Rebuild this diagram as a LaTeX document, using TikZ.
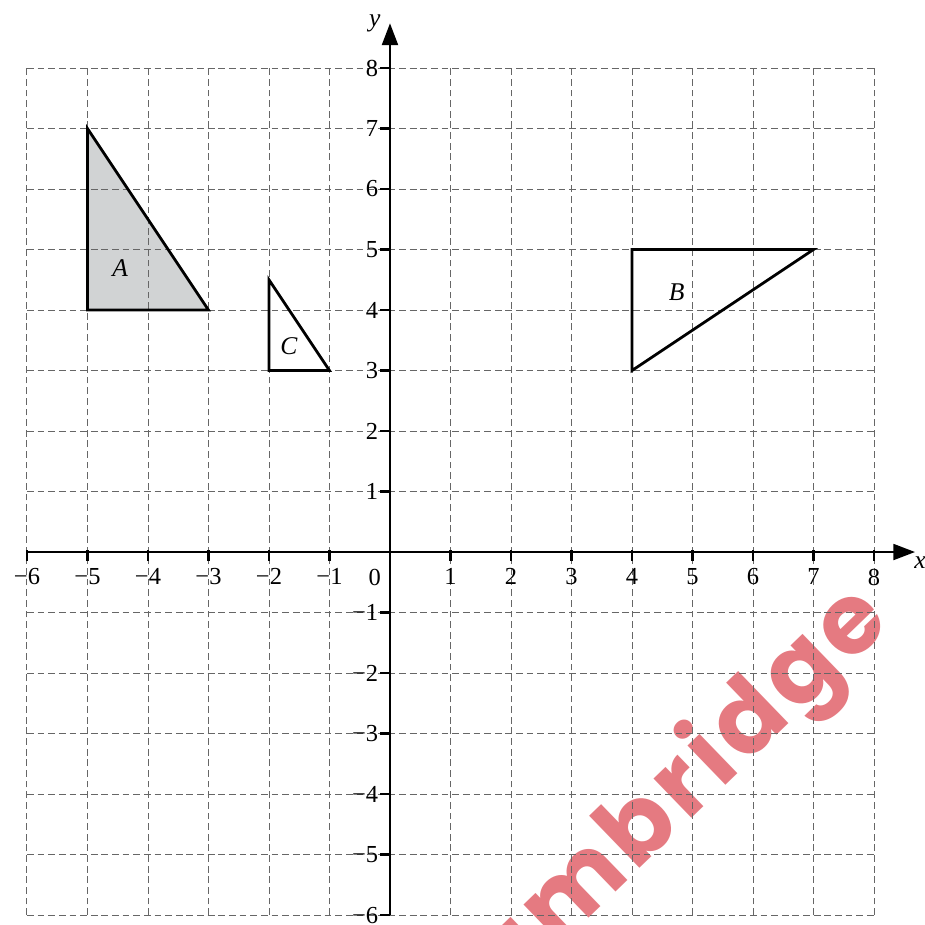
\documentclass[tikz,border=0pt]{standalone}
\usepackage{fontspec}
\setmainfont{Liberation Serif}
\newfontfamily\wmfont[LetterSpace=5.6]{Poppins}
\usetikzlibrary{arrows.meta}
\definecolor{wmred}{RGB}{229,122,129}
\definecolor{shadeA}{RGB}{209,211,212}
\begin{document}
\begin{tikzpicture}[x=1cm,y=1cm,
  gridline/.style={draw=black!60, line width=0.45pt, dash pattern=on 3.2pt off 1.8pt},
  axisline/.style={line width=1.3pt, -{Triangle[length=0.36cm,width=0.26cm]}},
  tickmark/.style={line width=1.1pt},
  triside/.style={line width=1.3pt, line join=miter},
  ticklab/.style={font=\fontsize{11.5}{13}\selectfont, inner sep=0pt},
  shapelab/.style={font=\fontsize{12}{14}\selectfont\itshape, inner sep=0pt},
  axislab/.style={font=\fontsize{12}{14}\selectfont\itshape, inner sep=0pt},
  watermark/.style={font=\wmfont\bfseries\fontsize{46}{52}\selectfont, text=wmred, rotate=44, anchor=base west, inner sep=0pt}
]
\useasboundingbox (-6.446,-6.149) rectangle (8.843,9.124);
\begin{scope}
  \clip (-6.446,-6.149) rectangle (8.843,9.124);
  \node[watermark] (wm) at (0.95,-8.30) {Cambridge};
\end{scope}
% vertices
\coordinate (A1) at (-5,7); \coordinate (A2) at (-5,4); \coordinate (A3) at (-3,4);
\coordinate (B1) at (4,5);  \coordinate (B2) at (7,5);  \coordinate (B3) at (4,3);
\coordinate (C1) at (-2,4.5); \coordinate (C2) at (-2,3); \coordinate (C3) at (-1,3);
\fill[shadeA] (A1) -- (A2) -- (A3) -- cycle;
% grid
\foreach \i in {-6,...,8} {
  \draw[gridline] (\i,-6) -- (\i,8);
  \draw[gridline] (-6,\i) -- (8,\i);
}
% axes
\coordinate (xs) at (-6,0); \coordinate (xe) at (8.68,0);
\coordinate (ys) at (0,-6); \coordinate (ye) at (0,8.74);
\draw[axisline] (xs) -- (xe);
\draw[axisline] (ys) -- (ye);
\foreach \i in {-6,...,-1,1,2,...,8} {
  \draw[tickmark] (\i,0.03) -- (\i,-0.15);
  \draw[tickmark] (0,\i) -- (-0.17,\i);
}
\foreach \i in {-6,...,-1} {
  \node[ticklab, anchor=north] (xl\i) at (\i,-0.27) {−\the\numexpr-\i\relax};
  \node[ticklab, anchor=east] (yl\i) at (-0.19,\i) {−\the\numexpr-\i\relax};
}
\foreach \i in {1,...,8} {
  \node[ticklab, anchor=north] (xl\i) at (\i,-0.27) {\i};
  \node[ticklab, anchor=east] (yl\i) at (-0.19,\i) {\i};
}
\node[ticklab, anchor=north] (origin) at (-0.25,-0.27) {0};
\node[axislab, anchor=west] (xlab) at (8.66,-0.17) {x};
\node[axislab] (ylab) at (-0.25,8.74) {y};
% triangles
\draw[triside] (A1) -- (A2) -- (A3) -- cycle;
\draw[triside] (B1) -- (B2) -- (B3) -- cycle;
\draw[triside] (C1) -- (C2) -- (C3) -- cycle;
\node[shapelab] (labA) at (-4.46,4.69) {A};
\node[shapelab] (labB) at (4.74,4.30) {B};
\node[shapelab] (labC) at (-1.67,3.40) {C};
\end{tikzpicture}
\end{document}
